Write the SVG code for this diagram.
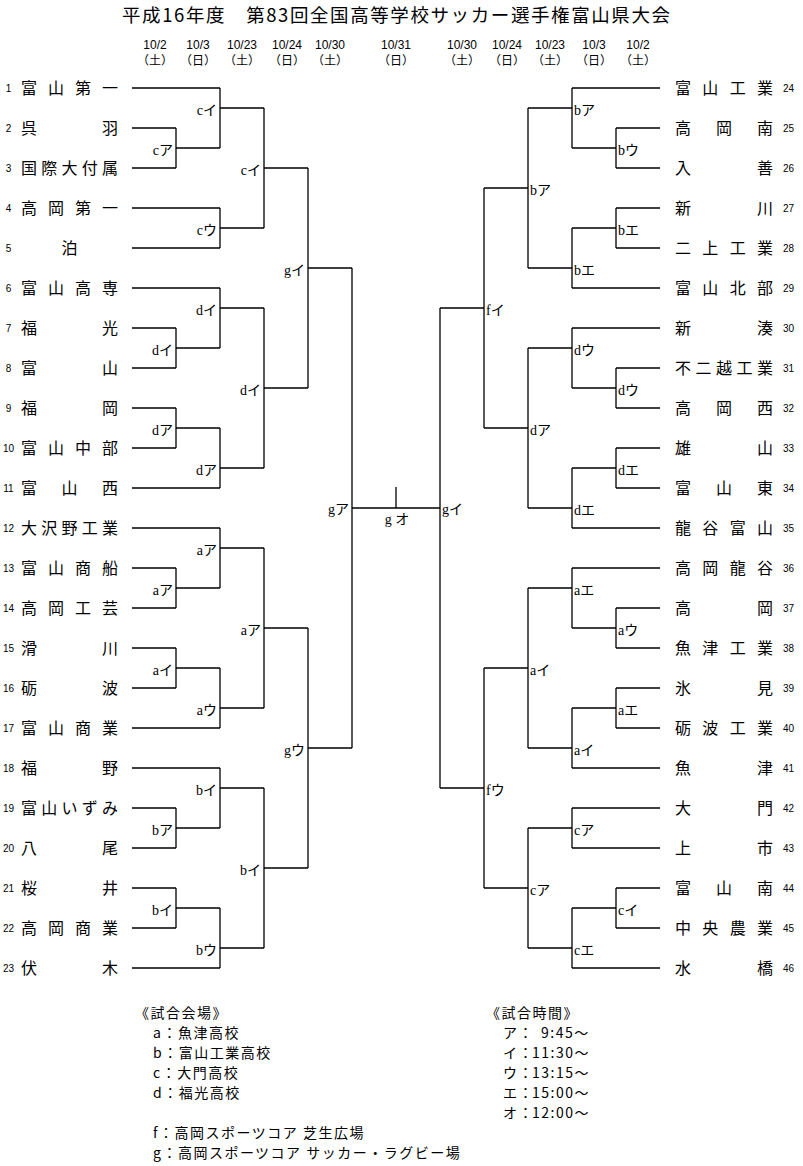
<svg xmlns="http://www.w3.org/2000/svg" width="803" height="1166" viewBox="0 0 803 1166">
<style>
text{fill:#000;font-family:"Noto Sans CJK JP","Noto Sans CJK SC",sans-serif}
.ttl{font-size:18.5px}
.d{font-size:12px;text-anchor:middle;font-family:"Liberation Sans","Noto Sans CJK JP",sans-serif}
.dw{font-size:12px;text-anchor:middle}
.t{font-size:16px}
.n{font-size:10px;font-family:"Liberation Sans",sans-serif}
.nl{text-anchor:middle}
.m{font-size:14px;font-family:"Liberation Serif","Noto Sans CJK JP",serif}
.ml{text-anchor:end}
.lg{font-size:14px;letter-spacing:1.5px}
#connectors path{fill:none;stroke:#000;stroke-width:1.3}
</style>
<rect width="803" height="1166" fill="#fff"/>
<g id="header">
<text class="ttl" x="122" y="21.5" textLength="548" lengthAdjust="spacing">平成16年度　第83回全国高等学校サッカー選手権富山県大会</text>
<text class="d" x="155" y="49">10/2</text><text class="dw" x="155" y="65">（土）</text>
<text class="d" x="198" y="49">10/3</text><text class="dw" x="198" y="65">（日）</text>
<text class="d" x="242" y="49">10/23</text><text class="dw" x="242" y="65">（土）</text>
<text class="d" x="287" y="49">10/24</text><text class="dw" x="287" y="65">（日）</text>
<text class="d" x="330" y="49">10/30</text><text class="dw" x="330" y="65">（土）</text>
<text class="d" x="396" y="49">10/31</text><text class="dw" x="396" y="65">（日）</text>
<text class="d" x="462" y="49">10/30</text><text class="dw" x="462" y="65">（土）</text>
<text class="d" x="507" y="49">10/24</text><text class="dw" x="507" y="65">（日）</text>
<text class="d" x="550" y="49">10/23</text><text class="dw" x="550" y="65">（土）</text>
<text class="d" x="594" y="49">10/3</text><text class="dw" x="594" y="65">（日）</text>
<text class="d" x="638" y="49">10/2</text><text class="dw" x="638" y="65">（土）</text>
</g>
<g id="connectors">
<path d="M132 88H220M132 128H176M132 168H176M132 208H220M132 248H220M132 288H220M132 328H176M132 368H176M132 408H176M132 448H176M132 488H220M132 528H220M132 568H176M132 608H176M132 648H176M132 688H176M132 728H220M132 768H220M132 808H176M132 848H176M132 888H176M132 928H176M132 968H220"/>
<path d="M660 88H572M660 128H616M660 168H616M660 208H616M660 248H616M660 288H572M660 328H572M660 368H616M660 408H616M660 448H616M660 488H616M660 528H572M660 568H572M660 608H616M660 648H616M660 688H616M660 728H616M660 768H572M660 808H572M660 848H572M660 888H616M660 928H616M660 968H572"/>
<path d="M176 128V168M176 148H220M176 328V368M176 348H220M176 408V448M176 428H220M176 568V608M176 588H220M176 648V688M176 668H220M176 808V848M176 828H220M176 888V928M176 908H220"/>
<path d="M220 88V148M220 108H264M220 208V248M220 228H264M220 288V348M220 308H264M220 428V488M220 468H264M220 528V588M220 548H264M220 668V728M220 708H264M220 768V828M220 788H264M220 908V968M220 948H264"/>
<path d="M264 108V228M264 168H308M264 308V468M264 388H308M264 548V708M264 628H308M264 788V948M264 868H308"/>
<path d="M308 168V388M308 268H352M308 628V868M308 748H352"/>
<path d="M352 268V748M352 508H440M396 487V508M440 308V788"/>
<path d="M616 128V168M616 148H572M616 208V248M616 228H572M616 368V408M616 388H572M616 448V488M616 468H572M616 608V648M616 628H572M616 688V728M616 708H572M616 888V928M616 908H572"/>
<path d="M572 88V148M572 108H528M572 228V288M572 268H528M572 328V388M572 348H528M572 468V528M572 508H528M572 568V628M572 588H528M572 708V768M572 748H528M572 808V848M572 828H528M572 908V968M572 948H528"/>
<path d="M528 108V268M528 188H484M528 348V508M528 428H484M528 588V748M528 668H484M528 828V948M528 888H484"/>
<path d="M484 188V428M484 308H440M484 668V888M484 788H440"/>
</g>
<g id="teams-left">
<g id="team-1"><text class="n nl" x="8.5" y="92">1</text><text class="t" x="21 48 75 102" y="94">富山第一</text></g>
<g id="team-2"><text class="n nl" x="8.5" y="132">2</text><text class="t" x="21 102" y="134">呉羽</text></g>
<g id="team-3"><text class="n nl" x="8.5" y="172">3</text><text class="t" x="21 41.25 61.5 81.75 102" y="174">国際大付属</text></g>
<g id="team-4"><text class="n nl" x="8.5" y="212">4</text><text class="t" x="21 48 75 102" y="214">高岡第一</text></g>
<g id="team-5"><text class="n nl" x="8.5" y="252">5</text><text class="t" x="61.5" y="254">泊</text></g>
<g id="team-6"><text class="n nl" x="8.5" y="292">6</text><text class="t" x="21 48 75 102" y="294">富山高専</text></g>
<g id="team-7"><text class="n nl" x="8.5" y="332">7</text><text class="t" x="21 102" y="334">福光</text></g>
<g id="team-8"><text class="n nl" x="8.5" y="372">8</text><text class="t" x="21 102" y="374">富山</text></g>
<g id="team-9"><text class="n nl" x="8.5" y="412">9</text><text class="t" x="21 102" y="414">福岡</text></g>
<g id="team-10"><text class="n nl" x="8.5" y="452">10</text><text class="t" x="21 48 75 102" y="454">富山中部</text></g>
<g id="team-11"><text class="n nl" x="8.5" y="492">11</text><text class="t" x="21 61.5 102" y="494">富山西</text></g>
<g id="team-12"><text class="n nl" x="8.5" y="532">12</text><text class="t" x="21 41.25 61.5 81.75 102" y="534">大沢野工業</text></g>
<g id="team-13"><text class="n nl" x="8.5" y="572">13</text><text class="t" x="21 48 75 102" y="574">富山商船</text></g>
<g id="team-14"><text class="n nl" x="8.5" y="612">14</text><text class="t" x="21 48 75 102" y="614">高岡工芸</text></g>
<g id="team-15"><text class="n nl" x="8.5" y="652">15</text><text class="t" x="21 102" y="654">滑川</text></g>
<g id="team-16"><text class="n nl" x="8.5" y="692">16</text><text class="t" x="21 102" y="694">砺波</text></g>
<g id="team-17"><text class="n nl" x="8.5" y="732">17</text><text class="t" x="21 48 75 102" y="734">富山商業</text></g>
<g id="team-18"><text class="n nl" x="8.5" y="772">18</text><text class="t" x="21 102" y="774">福野</text></g>
<g id="team-19"><text class="n nl" x="8.5" y="812">19</text><text class="t" x="21 41.25 61.5 81.75 102" y="814">富山いずみ</text></g>
<g id="team-20"><text class="n nl" x="8.5" y="852">20</text><text class="t" x="21 102" y="854">八尾</text></g>
<g id="team-21"><text class="n nl" x="8.5" y="892">21</text><text class="t" x="21 102" y="894">桜井</text></g>
<g id="team-22"><text class="n nl" x="8.5" y="932">22</text><text class="t" x="21 48 75 102" y="934">高岡商業</text></g>
<g id="team-23"><text class="n nl" x="8.5" y="972">23</text><text class="t" x="21 102" y="974">伏木</text></g>
</g>
<g id="teams-right">
<g id="team-24"><text class="t" x="675 702.3 729.7 757" y="94">富山工業</text><text class="n" x="783" y="92">24</text></g>
<g id="team-25"><text class="t" x="675 716 757" y="134">高岡南</text><text class="n" x="783" y="132">25</text></g>
<g id="team-26"><text class="t" x="675 757" y="174">入善</text><text class="n" x="783" y="172">26</text></g>
<g id="team-27"><text class="t" x="675 757" y="214">新川</text><text class="n" x="783" y="212">27</text></g>
<g id="team-28"><text class="t" x="675 702.3 729.7 757" y="254">二上工業</text><text class="n" x="783" y="252">28</text></g>
<g id="team-29"><text class="t" x="675 702.3 729.7 757" y="294">富山北部</text><text class="n" x="783" y="292">29</text></g>
<g id="team-30"><text class="t" x="675 757" y="334">新湊</text><text class="n" x="783" y="332">30</text></g>
<g id="team-31"><text class="t" x="675 695.5 716 736.5 757" y="374">不二越工業</text><text class="n" x="783" y="372">31</text></g>
<g id="team-32"><text class="t" x="675 716 757" y="414">高岡西</text><text class="n" x="783" y="412">32</text></g>
<g id="team-33"><text class="t" x="675 757" y="454">雄山</text><text class="n" x="783" y="452">33</text></g>
<g id="team-34"><text class="t" x="675 716 757" y="494">富山東</text><text class="n" x="783" y="492">34</text></g>
<g id="team-35"><text class="t" x="675 702.3 729.7 757" y="534">龍谷富山</text><text class="n" x="783" y="532">35</text></g>
<g id="team-36"><text class="t" x="675 702.3 729.7 757" y="574">高岡龍谷</text><text class="n" x="783" y="572">36</text></g>
<g id="team-37"><text class="t" x="675 757" y="614">高岡</text><text class="n" x="783" y="612">37</text></g>
<g id="team-38"><text class="t" x="675 702.3 729.7 757" y="654">魚津工業</text><text class="n" x="783" y="652">38</text></g>
<g id="team-39"><text class="t" x="675 757" y="694">氷見</text><text class="n" x="783" y="692">39</text></g>
<g id="team-40"><text class="t" x="675 702.3 729.7 757" y="734">砺波工業</text><text class="n" x="783" y="732">40</text></g>
<g id="team-41"><text class="t" x="675 757" y="774">魚津</text><text class="n" x="783" y="772">41</text></g>
<g id="team-42"><text class="t" x="675 757" y="814">大門</text><text class="n" x="783" y="812">42</text></g>
<g id="team-43"><text class="t" x="675 757" y="854">上市</text><text class="n" x="783" y="852">43</text></g>
<g id="team-44"><text class="t" x="675 716 757" y="894">富山南</text><text class="n" x="783" y="892">44</text></g>
<g id="team-45"><text class="t" x="675 702.3 729.7 757" y="934">中央農業</text><text class="n" x="783" y="932">45</text></g>
<g id="team-46"><text class="t" x="675 757" y="974">水橋</text><text class="n" x="783" y="972">46</text></g>
</g>
<g id="matches-left">
<g id="mL1-1"><text class="m ml" x="173" y="155">cア</text></g>
<g id="mL1-2"><text class="m ml" x="173" y="355">dイ</text></g>
<g id="mL1-3"><text class="m ml" x="173" y="435">dア</text></g>
<g id="mL1-4"><text class="m ml" x="173" y="595">aア</text></g>
<g id="mL1-5"><text class="m ml" x="173" y="675">aイ</text></g>
<g id="mL1-6"><text class="m ml" x="173" y="835">bア</text></g>
<g id="mL1-7"><text class="m ml" x="173" y="915">bイ</text></g>
<g id="mL2-1"><text class="m ml" x="217" y="115">cイ</text></g>
<g id="mL2-2"><text class="m ml" x="217" y="235">cウ</text></g>
<g id="mL2-3"><text class="m ml" x="217" y="315">dイ</text></g>
<g id="mL2-4"><text class="m ml" x="217" y="475">dア</text></g>
<g id="mL2-5"><text class="m ml" x="217" y="555">aア</text></g>
<g id="mL2-6"><text class="m ml" x="217" y="715">aウ</text></g>
<g id="mL2-7"><text class="m ml" x="217" y="795">bイ</text></g>
<g id="mL2-8"><text class="m ml" x="217" y="955">bウ</text></g>
<g id="mL3-1"><text class="m ml" x="261" y="175">cイ</text></g>
<g id="mL3-2"><text class="m ml" x="261" y="395">dイ</text></g>
<g id="mL3-3"><text class="m ml" x="261" y="635">aア</text></g>
<g id="mL3-4"><text class="m ml" x="261" y="875">bイ</text></g>
<g id="mL4-1"><text class="m ml" x="305" y="275">gイ</text></g>
<g id="mL4-2"><text class="m ml" x="305" y="755">gウ</text></g>
<g id="mL5"><text class="m ml" x="349" y="514">gア</text></g>
</g>
<g id="final"><text class="m" x="397" y="524" text-anchor="middle">g オ</text></g>
<g id="matches-right">
<g id="mR5"><text class="m" x="442" y="514">gイ</text></g>
<g id="mR4-1"><text class="m" x="486" y="315">fイ</text></g>
<g id="mR4-2"><text class="m" x="486" y="795">fウ</text></g>
<g id="mR3-1"><text class="m" x="530" y="195">bア</text></g>
<g id="mR3-2"><text class="m" x="530" y="435">dア</text></g>
<g id="mR3-3"><text class="m" x="530" y="675">aイ</text></g>
<g id="mR3-4"><text class="m" x="530" y="895">cア</text></g>
<g id="mR2-1"><text class="m" x="574" y="115">bア</text></g>
<g id="mR2-2"><text class="m" x="574" y="275">bエ</text></g>
<g id="mR2-3"><text class="m" x="574" y="355">dウ</text></g>
<g id="mR2-4"><text class="m" x="574" y="515">dエ</text></g>
<g id="mR2-5"><text class="m" x="574" y="595">aエ</text></g>
<g id="mR2-6"><text class="m" x="574" y="755">aイ</text></g>
<g id="mR2-7"><text class="m" x="574" y="835">cア</text></g>
<g id="mR2-8"><text class="m" x="574" y="955">cエ</text></g>
<g id="mR1-1"><text class="m" x="618" y="155">bウ</text></g>
<g id="mR1-2"><text class="m" x="618" y="235">bエ</text></g>
<g id="mR1-3"><text class="m" x="618" y="395">dウ</text></g>
<g id="mR1-4"><text class="m" x="618" y="475">dエ</text></g>
<g id="mR1-5"><text class="m" x="618" y="635">aウ</text></g>
<g id="mR1-6"><text class="m" x="618" y="715">aエ</text></g>
<g id="mR1-7"><text class="m" x="618" y="915">cイ</text></g>
</g>
<g id="legend-venues">
<text class="lg" x="135" y="1018">《試合会場》</text>
<text class="lg" x="153" y="1038">a：魚津高校</text>
<text class="lg" x="153" y="1058">b：富山工業高校</text>
<text class="lg" x="153" y="1078">c：大門高校</text>
<text class="lg" x="153" y="1098">d：福光高校</text>
<text class="lg" x="153" y="1138">f：高岡スポーツコア 芝生広場</text>
<text class="lg" x="153" y="1158">g：高岡スポーツコア サッカー・ラグビー場</text>
</g>
<g id="legend-times">
<text class="lg" x="486" y="1018">《試合時間》</text>
<text class="lg" x="503" y="1038">ア：<tspan x="541">9:45～</tspan></text>
<text class="lg" x="503" y="1058">イ：<tspan x="532">11:30～</tspan></text>
<text class="lg" x="503" y="1078">ウ：<tspan x="532">13:15～</tspan></text>
<text class="lg" x="503" y="1098">エ：<tspan x="532">15:00～</tspan></text>
<text class="lg" x="503" y="1118">オ：<tspan x="532">12:00～</tspan></text>
</g>
</svg>
